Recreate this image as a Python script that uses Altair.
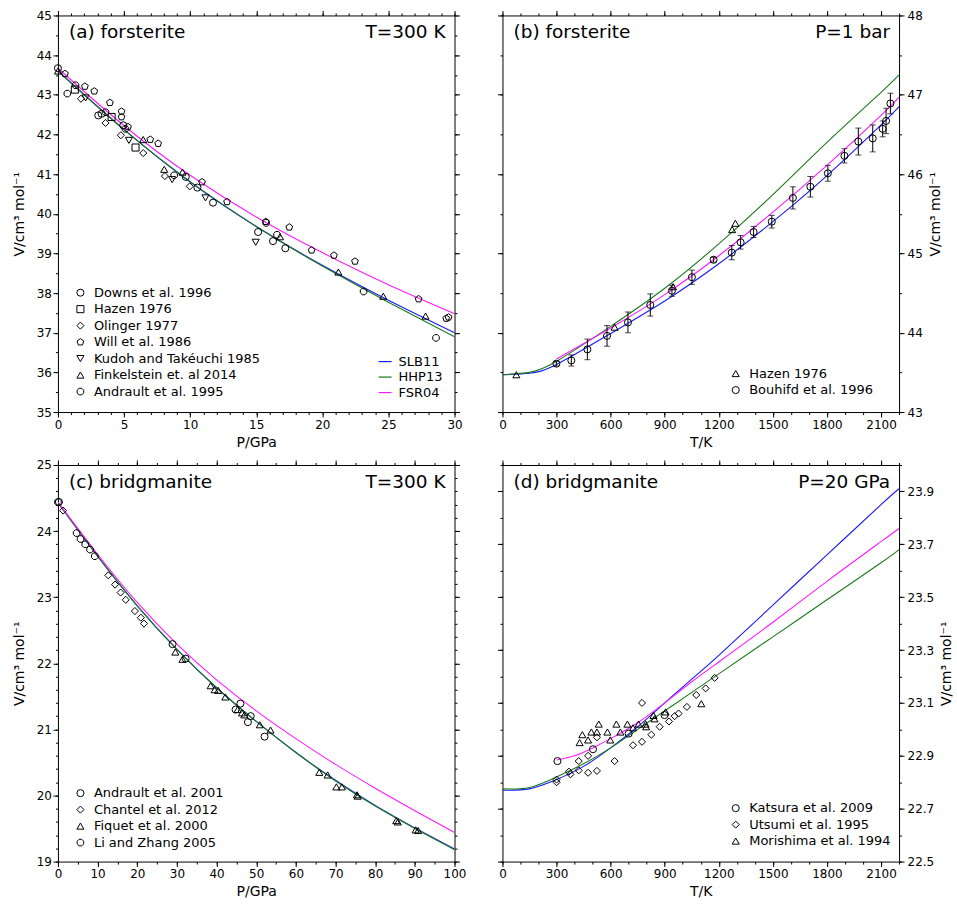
import altair as alt
import pandas as pd

FONT = "DejaVu Sans"
MODELS = ["SLB11", "HHP13", "FSR04"]
COLORS = ["#1a1aff", "#1b7a1b", "#ff1aff"]
PENT = "M0,-1L0.951,-0.309L0.588,0.809L-0.588,0.809L-0.951,-0.309Z"
OCT = "M0.924,0.383L0.383,0.924L-0.383,0.924L-0.924,0.383L-0.924,-0.383L-0.383,-0.924L0.383,-0.924L0.924,-0.383Z"

# ---------------- (a) forsterite, T=300 K ----------------
a_P = [0, 5, 10, 15, 20, 25, 30]
a_SLB11 = [43.60, 42.12, 40.80, 39.68, 38.70, 37.82, 37.00]
a_HHP13 = [43.60, 42.12, 40.81, 39.68, 38.68, 37.77, 36.90]
a_FSR04 = [43.67, 42.22, 40.97, 39.92, 39.02, 38.21, 37.48]

a_names = ["Downs et al. 1996", "Hazen 1976", "Olinger 1977", "Will et al. 1986",
           "Kudoh and Takéuchi 1985", "Finkelstein et. al 2014", "Andrault et al. 1995"]
a_shapes = ["circle", "square", "diamond", PENT, "triangle-down", "triangle-up", OCT]
downs_P = [0.0, 3.05, 3.3, 4.94, 9.67, 10.55, 11.73, 15.14, 16.27, 17.2]
downs_V = [43.67, 42.48, 42.52, 42.23, 40.93, 40.66, 40.28, 39.54, 39.31, 39.13]
hazen_P = [1.28, 4.06, 5.87]
hazen_V = [43.13, 42.44, 41.67]
olinger_P = [1.74, 3.6, 4.76, 6.45, 8.09, 9.97]
olinger_V = [42.90, 42.29, 41.98, 41.53, 40.95, 40.69]
will_P = [0.53, 2.04, 2.75, 3.93, 4.81, 4.81, 5.3, 6.98, 7.58, 10.9, 12.79, 15.72,
          17.5, 19.19, 20.88, 22.47, 27.28, 29.37, 29.55]
will_V = [43.53, 43.21, 43.09, 42.80, 42.58, 42.44, 42.19, 41.87, 41.77, 40.80, 40.30, 39.80,
          39.66, 39.08, 38.95, 38.80, 37.85, 37.36, 37.39]
kudoh_P = [2.09, 5.37, 8.64, 11.16, 14.96]
kudoh_V = [42.92, 41.85, 40.86, 40.40, 39.28]
fink_P = [0.0, 6.45, 8.04, 9.42, 16.8, 21.21, 24.61, 27.81]
fink_V = [43.60, 41.87, 41.12, 41.05, 39.42, 38.53, 37.92, 37.42]
andr95_P = [0.71, 1.33, 3.6, 5.1, 8.79, 15.75, 16.57, 23.12, 28.6]
andr95_V = [43.03, 43.24, 42.56, 42.14, 40.97, 39.77, 39.47, 38.04, 36.87]

# ---------------- (b) forsterite, P=1 bar ----------------
b_T = [0, 150, 300, 600, 900, 1200, 1500, 1800, 2100, 2200]
b_SLB11 = [43.47, 43.49, 43.60, 43.99, 44.40, 44.87, 45.40, 45.98, 46.62, 46.85]
b_HHP13 = [43.47, 43.50, 43.64, 44.08, 44.56, 45.12, 45.74, 46.40, 47.03, 47.25]
b_T_FSR = [300, 600, 900, 1200, 1500, 1800, 2100, 2200]
b_FSR04 = [43.67, 44.06, 44.48, 44.97, 45.52, 46.11, 46.74, 46.97]

b_names = ["Hazen 1976", "Bouhifd et al. 1996"]
b_shapes = ["triangle-up", "circle"]
hazenT_T = [77, 622, 946, 1274, 1292]
hazenT_V = [43.47, 44.07, 44.58, 45.30, 45.38]
bouh_T = [299, 382, 471, 580, 696, 820, 940, 1051, 1171, 1272, 1321, 1393, 1494, 1611,
          1708, 1805, 1897, 1974, 2054, 2109, 2128, 2152]
bouh_V = [43.61, 43.65, 43.79, 43.96, 44.13, 44.35, 44.53, 44.70, 44.92, 45.01, 45.14,
          45.27, 45.40, 45.70, 45.84, 46.01, 46.23, 46.41, 46.45, 46.57, 46.67, 46.89]
bouh_err = [0.03, 0.07, 0.13, 0.13, 0.13, 0.14, 0.07, 0.09, 0.03, 0.09, 0.085, 0.07, 0.08,
            0.14, 0.13, 0.10, 0.09, 0.17, 0.17, 0.10, 0.16, 0.13]

# ---------------- (c) bridgmanite, T=300 K ----------------
c_P = [0, 10, 20, 30, 40, 50, 60, 70, 80, 90, 100]
c_SLB11 = [24.43, 23.62, 22.87, 22.21, 21.63, 21.12, 20.65, 20.23, 19.85, 19.51, 19.19]
c_HHP13 = [24.43, 23.62, 22.87, 22.21, 21.63, 21.12, 20.65, 20.22, 19.84, 19.50, 19.18]
c_FSR04 = [24.44, 23.65, 22.92, 22.29, 21.75, 21.28, 20.86, 20.47, 20.11, 19.77, 19.44]

c_names = ["Andrault et al. 2001", "Chantel et al. 2012", "Fiquet et al. 2000", "Li and Zhang 2005"]
c_shapes = ["circle", "diamond", "triangle-up", OCT]
andr01_P = [0.25, 28.9, 32.2, 44.8, 46.0, 47.9, 48.6, 52.1]
andr01_V = [24.44, 22.29, 22.07, 21.30, 21.39, 21.11, 21.20, 20.89]
chantel_P = [1.3, 12.7, 14.4, 15.8, 17.1, 19.4, 20.9, 21.7]
chantel_V = [24.31, 23.33, 23.19, 23.07, 22.96, 22.79, 22.69, 22.60]
fiquet_P = [29.6, 31.4, 38.5, 39.5, 40.4, 42.2, 45.3, 46.4, 47.0, 50.9, 53.6, 65.9, 68.0,
            70.2, 71.6, 75.4, 75.6, 85.3, 85.7, 90.2, 90.8]
fiquet_V = [22.17, 22.06, 21.66, 21.60, 21.59, 21.49, 21.30, 21.25, 21.22, 21.07, 20.99,
            20.35, 20.31, 20.13, 20.13, 20.01, 19.99, 19.62, 19.60, 19.48, 19.47]
lizhang_P = [0.0, 4.7, 5.7, 6.9, 8.1, 9.3]
lizhang_V = [24.44, 23.97, 23.88, 23.80, 23.72, 23.62]

# ---------------- (d) bridgmanite, P=20 GPa ----------------
d_T = [0, 150, 300, 450, 600, 750, 900, 1050, 1200, 1500, 1800, 2100, 2200]
d_SLB11 = [22.770, 22.775, 22.81, 22.86, 22.93, 23.01, 23.10, 23.19, 23.28, 23.47, 23.66, 23.85, 23.91]
d_HHP13 = [22.775, 22.780, 22.82, 22.87, 22.93, 23.00, 23.07, 23.14, 23.21, 23.35, 23.49, 23.63, 23.68]
d_T_FSR = [300, 400, 500, 600, 750, 900, 1050, 1200, 1500, 1800, 2100, 2200]
d_FSR04 = [22.884, 22.90, 22.93, 22.965, 23.025, 23.10, 23.18, 23.255, 23.405, 23.56, 23.71, 23.76]

d_names = ["Katsura et al. 2009", "Utsumi et al. 1995", "Morishima et al. 1994"]
d_shapes = ["circle", "diamond", "triangle-up"]
kats_T = [305, 502, 700, 899]
kats_V = [22.88, 22.925, 22.984, 23.054]
utsumi_T = [300, 300, 369, 377, 423, 423, 475, 475, 524, 524, 622, 724, 774, 774, 826, 872,
            924, 955, 977, 1023, 1075, 1127, 1177]
utsumi_V = [22.81, 22.80, 22.84, 22.83, 22.845, 22.88, 22.836, 22.90, 22.843, 22.97, 22.88,
            22.94, 22.953, 23.10, 22.98, 23.01, 23.03, 23.05, 23.06, 23.085, 23.13, 23.155, 23.195]
mori_T = [428, 443, 475, 493, 524, 534, 582, 598, 632, 654, 693, 724, 755, 794, 797, 838,
          843, 905, 1103]
mori_V = [22.95, 22.98, 22.96, 22.99, 22.99, 23.02, 22.99, 22.96, 23.02, 22.99, 23.02, 23.006,
          23.02, 23.02, 23.01, 23.053, 23.04, 23.066, 23.097]

# ---------------- tick values ----------------
a_xmaj = [0, 5, 10, 15, 20, 25, 30]
a_xmin = list(range(0, 31))
a_ymaj = [35, 36, 37, 38, 39, 40, 41, 42, 43, 44, 45]
a_ymin = [35 + 0.5 * i for i in range(21)]
T_maj = [0, 300, 600, 900, 1200, 1500, 1800, 2100]
T_min = [100 * i for i in range(23)]
b_ymaj = [43, 44, 45, 46, 47, 48]
b_ymin = [43 + 0.5 * i for i in range(11)]
c_xmaj = [0, 10, 20, 30, 40, 50, 60, 70, 80, 90, 100]
c_xmin = [5 * i for i in range(21)]
c_ymaj = [19, 20, 21, 22, 23, 24, 25]
c_ymin = [round(19 + 0.2 * i, 1) for i in range(31)]
d_ymaj = [22.5, 22.7, 22.9, 23.1, 23.3, 23.5, 23.7, 23.9]
d_ymin = [round(22.5 + 0.1 * i, 1) for i in range(16)]

VTITLE = "V/cm³ mol⁻¹"
W = H = 397


def curves(pairs):
    rows = []
    for m, xs, ys in pairs:
        for x, y in zip(xs, ys):
            rows.append({"x": x, "y": y, "model": m})
    return pd.DataFrame(rows)


def points(sets):
    rows = []
    for name, xs, ys in sets:
        for x, y in zip(xs, ys):
            rows.append({"x": x, "y": y, "src": name})
    return pd.DataFrame(rows)


def ax(orient, values, major, labels=False, title=None, fmt=None, pad=1.5,
       title_angle=None, title_pad=None, title_baseline=None):
    kw = dict(orient=orient, values=values, tickSize=5 if major else 2.5, labels=labels,
              domain=False, grid=False, ticks=True, tickColor="black", tickWidth=1,
              title=title)
    if labels:
        kw.update(labelFont=FONT, labelFontSize=12, labelColor="black", labelPadding=pad,
                  labelFlush=False, labelOverlap=False, labelBound=False)
        if fmt:
            kw["format"] = fmt
    if title:
        kw.update(titleFont=FONT, titleFontSize=14, titleFontWeight="normal",
                  titleColor="black")
        if title_angle is not None:
            kw["titleAngle"] = title_angle
        if title_pad is not None:
            kw["titlePadding"] = title_pad
        if title_baseline is not None:
            kw["titleBaseline"] = title_baseline
    return alt.Axis(**kw)


def panel(cdf, pdf, xdom, ydom, xmaj, xmin, ymaj, ymin, xtitle, yside, yfmt,
          names, shapes, shape_xy, color_xy, left_text, right_text, errdf=None):
    xs = alt.Scale(domain=xdom, nice=False, zero=False)
    ys = alt.Scale(domain=ydom, nice=False, zero=False)
    other = "right" if yside == "left" else "left"
    if color_xy:
        cleg = alt.Legend(orient="none", legendX=color_xy[0], legendY=color_xy[1], title=None,
                          symbolType="stroke", symbolSize=169, symbolStrokeWidth=1.2,
                          labelFont=FONT, labelFontSize=13, labelColor="black",
                          rowPadding=0.5, labelOffset=6, padding=0, labelLimit=0)
    else:
        cleg = None
    if yside == "left":
        yaxis_main = ax("left", ymaj, True, True, VTITLE, yfmt, pad=1.5,
                        title_angle=270, title_pad=10)
    else:
        yaxis_main = ax("right", ymaj, True, True, VTITLE, yfmt, pad=3,
                        title_angle=270, title_pad=6, title_baseline="top")
    lines = alt.Chart(cdf).mark_line(strokeWidth=1.1, clip=True, interpolate="natural").encode(
        x=alt.X("x:Q", scale=xs, axis=ax("bottom", xmaj, True, True, xtitle, "d", pad=2,
                                          title_pad=5)),
        y=alt.Y("y:Q", scale=ys, axis=yaxis_main),
        color=alt.Color("model:N", scale=alt.Scale(domain=MODELS, range=COLORS), legend=cleg),
    )

    def ghost(xa, ya):
        return alt.Chart(cdf).mark_line(opacity=0).encode(
            x=alt.X("x:Q", scale=xs, axis=xa), y=alt.Y("y:Q", scale=ys, axis=ya),
            detail="model:N")

    g1 = ghost(ax("bottom", xmin, False), ax(yside, ymin, False))
    g2 = ghost(ax("top", xmaj, True), ax(other, ymaj, True))
    g3 = ghost(ax("top", xmin, False), ax(other, ymin, False))

    sleg = alt.Legend(orient="none", legendX=shape_xy[0], legendY=shape_xy[1], title=None,
                      labelFont=FONT, labelFontSize=13, labelColor="black", symbolSize=50,
                      symbolStrokeColor="black", symbolStrokeWidth=1, rowPadding=2.5,
                      labelOffset=7, padding=0, labelLimit=0)
    pts = alt.Chart(pdf).mark_point(filled=False, color="black", size=50, strokeWidth=1,
                                    opacity=1).encode(
        x=alt.X("x:Q", scale=xs, axis=None),
        y=alt.Y("y:Q", scale=ys, axis=None),
        shape=alt.Shape("src:N", scale=alt.Scale(domain=names, range=shapes), legend=sleg),
    )
    lt = alt.Chart(pd.DataFrame({"t": [left_text]})).mark_text(
        align="left", baseline="alphabetic", font=FONT, fontSize=18.5, color="black").encode(
        text="t:N", x=alt.value(11), y=alt.value(23))
    rt = alt.Chart(pd.DataFrame({"t": [right_text]})).mark_text(
        align="right", baseline="alphabetic", font=FONT, fontSize=18.5, color="black").encode(
        text="t:N", x=alt.value(W - 9), y=alt.value(23))

    layers = [lines, g1, g2, g3]
    if errdf is not None:
        bars = alt.Chart(errdf).mark_rule(color="black", strokeWidth=1).encode(
            x=alt.X("x:Q", scale=xs, axis=None),
            y=alt.Y("lo:Q", scale=ys, axis=None), y2="hi:Q")
        caps = alt.Chart(errdf).transform_fold(["lo", "hi"], as_=["k", "v"]).mark_tick(
            color="black", orient="horizontal", size=6, thickness=1).encode(
            x=alt.X("x:Q", scale=xs, axis=None),
            y=alt.Y("v:Q", scale=ys, axis=None))
        layers += [bars, caps]
    layers += [pts, lt, rt]
    return alt.layer(*layers).resolve_axis(x="independent", y="independent").properties(
        width=W, height=H)


# ---------- build panels ----------
a_c = curves([("SLB11", a_P, a_SLB11), ("HHP13", a_P, a_HHP13), ("FSR04", a_P, a_FSR04)])
a_p = points([(a_names[0], downs_P, downs_V), (a_names[1], hazen_P, hazen_V),
              (a_names[2], olinger_P, olinger_V), (a_names[3], will_P, will_V),
              (a_names[4], kudoh_P, kudoh_V), (a_names[5], fink_P, fink_V),
              (a_names[6], andr95_P, andr95_V)])
pa = panel(a_c, a_p, [0, 30], [35, 45], a_xmaj, a_xmin, a_ymaj, a_ymin, "P/GPa", "left", "d",
           a_names, a_shapes, (16, 271), (320, 339), "(a) forsterite", "T=300 K")

b_c = curves([("SLB11", b_T, b_SLB11), ("HHP13", b_T, b_HHP13), ("FSR04", b_T_FSR, b_FSR04)])
b_p = points([(b_names[0], hazenT_T, hazenT_V), (b_names[1], bouh_T, bouh_V)])
b_e = pd.DataFrame({"x": bouh_T,
                    "lo": [v - e for v, e in zip(bouh_V, bouh_err)],
                    "hi": [v + e for v, e in zip(bouh_V, bouh_err)]})
pb = panel(b_c, b_p, [0, 2200], [43, 48], T_maj, T_min, b_ymaj, b_ymin, "T/K", "right", "d",
           b_names, b_shapes, (227, 352), None, "(b) forsterite", "P=1 bar", errdf=b_e)

c_c = curves([("SLB11", c_P, c_SLB11), ("HHP13", c_P, c_HHP13), ("FSR04", c_P, c_FSR04)])
c_p = points([(c_names[0], andr01_P, andr01_V), (c_names[1], chantel_P, chantel_V),
              (c_names[2], fiquet_P, fiquet_V), (c_names[3], lizhang_P, lizhang_V)])
pc = panel(c_c, c_p, [0, 100], [19, 25], c_xmaj, c_xmin, c_ymaj, c_ymin, "P/GPa", "left", "d",
           c_names, c_shapes, (16, 322), None, "(c) bridgmanite", "T=300 K")

d_c = curves([("SLB11", d_T, d_SLB11), ("HHP13", d_T, d_HHP13), ("FSR04", d_T_FSR, d_FSR04)])
d_p = points([(d_names[0], kats_T, kats_V), (d_names[1], utsumi_T, utsumi_V),
              (d_names[2], mori_T, mori_V)])
pd_ = panel(d_c, d_p, [0, 2200], [22.5, 24.0], T_maj, T_min, d_ymaj, d_ymin, "T/K", "right",
            ".1f", d_names, d_shapes, (227, 337), None, "(d) bridgmanite", "P=20 GPa")

chart = alt.concat(pa, pb, pc, pd_, columns=2, spacing={"row": 53, "column": 48},
                   bounds="flush").resolve_scale(
    color="independent", shape="independent").properties(
    padding={"left": 11, "top": 8, "right": 2, "bottom": 2}, background="white"
).configure_view(stroke="black", strokeWidth=1)

chart.save("out.html", embed_options={"renderer": "svg", "actions": False})
